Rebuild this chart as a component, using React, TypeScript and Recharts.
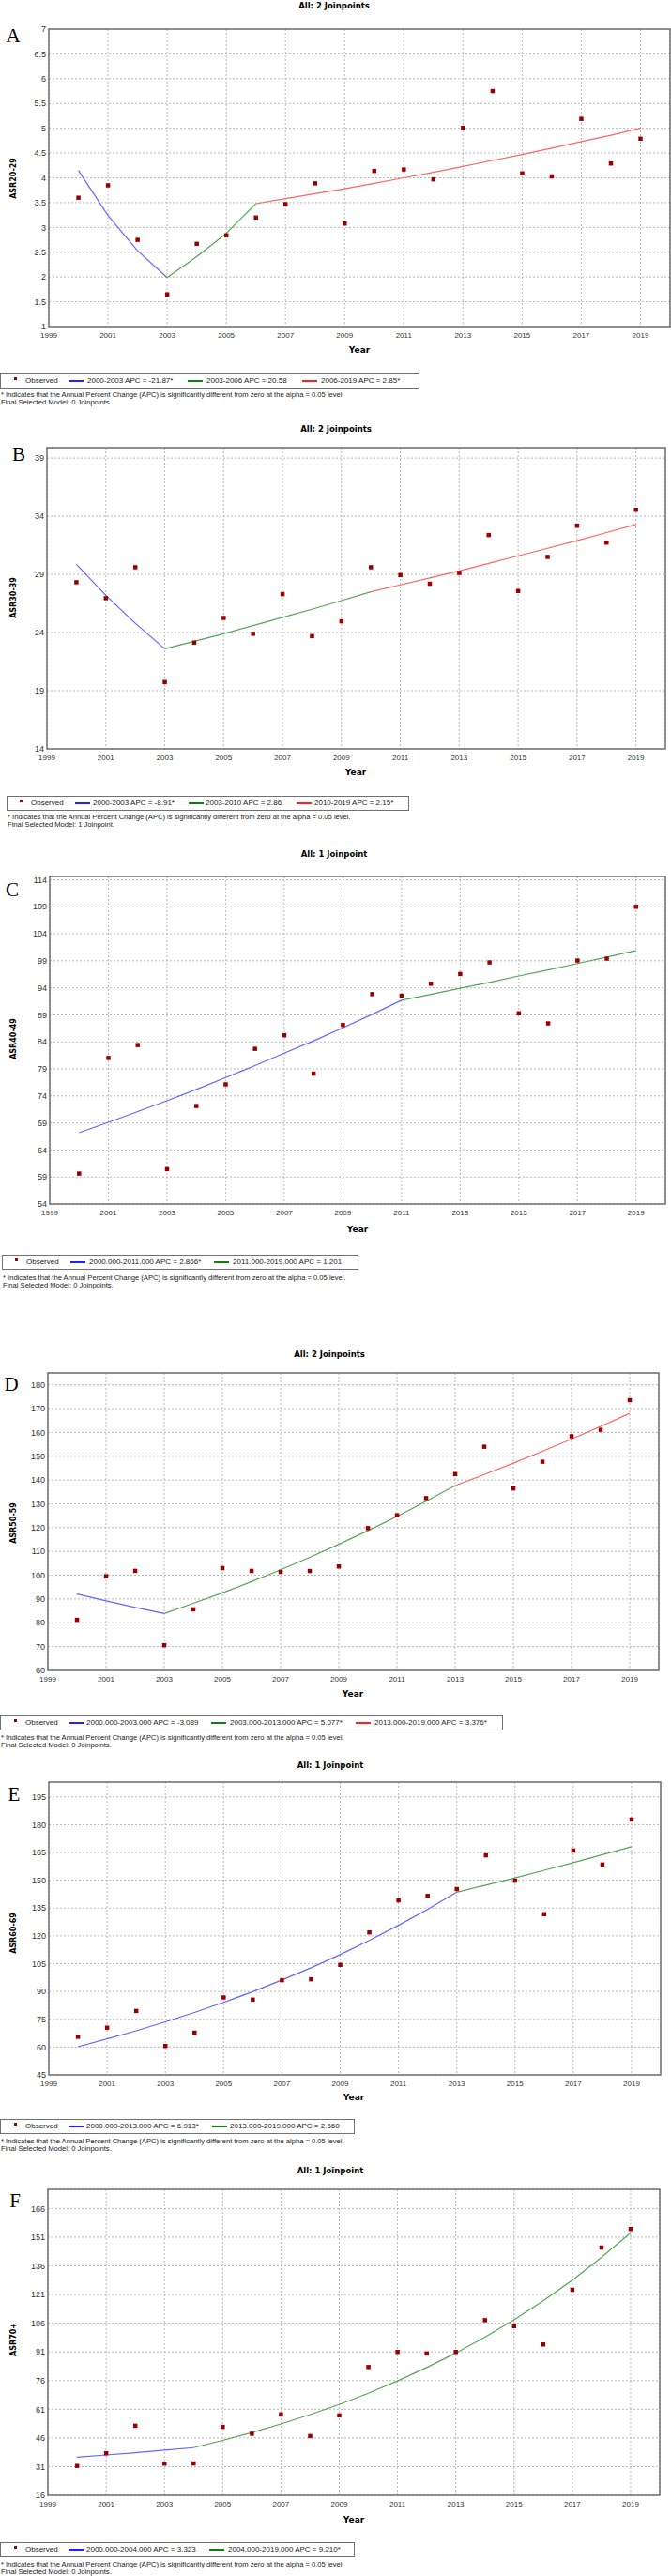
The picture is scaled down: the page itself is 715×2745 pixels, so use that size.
import React from "react"
import { ComposedChart, Line, Scatter, XAxis, YAxis, CartesianGrid, ReferenceArea } from "recharts"

const years = [2000, 2001, 2002, 2003, 2004, 2005, 2006, 2007, 2008, 2009, 2010, 2011, 2012, 2013, 2014, 2015, 2016, 2017, 2018, 2019]
const xTicks = [1999, 2001, 2003, 2005, 2007, 2009, 2011, 2013, 2015, 2017, 2019]

// A: ASR20-29
const obsA = [3.6, 3.85, 2.75, 1.65, 2.67, 2.84, 3.2, 3.47, 3.89, 3.08, 4.14, 4.17, 3.97, 5.01, 5.75, 4.09, 4.03, 5.19, 4.29, 4.79]
const fitA1 = [4.15, 3.24, 2.53, 1.99]
const fitA2 = [1.99, 2.41, 2.88, 3.48]
const fitA3 = [3.48, 3.58, 3.68, 3.78, 3.89, 4.0, 4.11, 4.23, 4.35, 4.47, 4.6, 4.73, 4.86, 5.0]
const ticksA = [1, 1.5, 2, 2.5, 3, 3.5, 4, 4.5, 5, 5.5, 6, 6.5, 7]

// B: ASR30-39
const obsB = [28.33, 26.96, 29.62, 19.75, 23.14, 25.26, 23.9, 27.31, 23.7, 24.97, 29.62, 28.95, 28.2, 29.13, 32.39, 27.58, 30.51, 33.19, 31.74, 34.56]
const fitB1 = [29.86, 27.2, 24.8, 22.6]
const fitB2 = [22.6, 23.25, 23.9, 24.6, 25.3, 26.0, 26.75, 27.5]
const fitB3 = [27.5, 28.1, 28.7, 29.3, 29.95, 30.6, 31.25, 31.9, 32.6, 33.3]
const ticksB = [14, 19, 24, 29, 34, 39]

// C: ASR40-49
const obsC = [59.64, 81.03, 83.42, 60.45, 72.14, 76.15, 82.72, 85.22, 78.13, 87.14, 92.84, 92.55, 94.76, 96.56, 98.71, 89.29, 87.43, 99.06, 99.41, 109.0]
const fitC1 = [67.2, 69.1, 71.1, 73.1, 75.2, 77.4, 79.6, 81.9, 84.2, 86.6, 89.1, 91.7]
const fitC2 = [91.7, 92.8, 93.9, 95.0, 96.2, 97.3, 98.5, 99.7, 100.9]
const ticksC = [54, 59, 64, 69, 74, 79, 84, 89, 94, 99, 104, 109, 114]

// D: ASR50-59
const obsD = [81.25, 99.6, 101.84, 70.6, 85.7, 103.0, 101.84, 101.4, 101.8, 103.7, 119.8, 125.2, 132.4, 142.5, 154.0, 136.5, 147.7, 158.4, 161.1, 173.6]
const fitD1 = [92.1, 89.2, 86.5, 83.9]
const fitD2 = [83.9, 88.2, 92.6, 97.3, 102.3, 107.5, 113.0, 118.7, 124.7, 131.1, 137.7]
const fitD3 = [137.7, 142.3, 147.1, 152.1, 157.2, 162.5, 168.0]
const ticksD = [60, 70, 80, 90, 100, 110, 120, 130, 140, 150, 160, 170, 180]

// E: ASR60-69
const obsE = [65.6, 70.5, 79.5, 60.6, 67.8, 86.8, 85.6, 96.1, 96.6, 104.4, 121.9, 139.2, 141.6, 145.3, 163.5, 149.8, 131.75, 166.1, 158.5, 182.8]
const fitE1 = [60.2, 64.4, 68.8, 73.6, 78.7, 84.1, 89.9, 96.2, 102.8, 109.9, 117.5, 125.7, 134.3, 143.6]
const fitE2 = [143.6, 147.4, 151.3, 155.4, 159.5, 163.8, 168.1]
const ticksE = [45, 60, 75, 90, 105, 120, 135, 150, 165, 180, 195]

// F: ASR70+
const obsF = [31.4, 38.0, 52.4, 32.6, 32.7, 51.8, 48.2, 58.3, 47.0, 57.8, 83.1, 91.0, 90.2, 91.0, 107.6, 104.5, 94.9, 123.5, 145.6, 155.3]
const fitF1 = [35.9, 37.1, 38.3, 39.6, 40.9]
const fitF2 = [40.9, 44.7, 48.8, 53.3, 58.2, 63.5, 69.4, 75.8, 82.8, 90.4, 98.7, 107.8, 117.7, 128.5, 140.4, 153.3]
const ticksF = [16, 31, 46, 61, 76, 91, 106, 121, 136, 151, 166]

const SANS = '"Liberation Sans", Arial, sans-serif'
const BOLD = '"DejaVu Sans", Verdana, sans-serif'
const SERIF = '"Liberation Serif", "Times New Roman", serif'

const BLUE = "#6464ff"
const GREEN = "#55a555"
const RED = "#ff6464"
const LBLUE = "#2020ff"
const LGREEN = "#108010"
const LRED = "#ff2020"
const DOT = "#9b0000"

const NOTE = "* Indicates that the Annual Percent Change (APC) is significantly different from zero at the alpha = 0.05 level."

const panels = [
  {
    letter: "A", title: "All: 2 Joinpoints", yLabel: "ASR20-29", obs: obsA, ticks: ticksA, domain: [1, 7],
    segs: [
      { from: 2000, values: fitA1, color: BLUE, lc: LBLUE, label: "2000-2003 APC = -21.87*" },
      { from: 2003, values: fitA2, color: GREEN, lc: LGREEN, label: "2003-2006 APC = 20.58" },
      { from: 2006, values: fitA3, color: RED, lc: LRED, label: "2006-2019 APC = 2.85*" },
    ],
    model: "Final Selected Model: 0 Joinpoints.",
    top: 31, bottom: 348, left: 52, right: 714, titleY: 6, titleX: 356, letterX: 14, letterY: 38, yLabelY: 190,
    yearX: 383, yearY: 373, legTop: 398, legLeft: 0, legRight: 447, obsX: 16, items: [[73, 93], [200, 220], [322, 342]], footX: 1, footY: 421,
  },
  {
    letter: "B", title: "All: 2 Joinpoints", yLabel: "ASR30-39", obs: obsB, ticks: ticksB, domain: [14, 39.9],
    segs: [
      { from: 2000, values: fitB1, color: BLUE, lc: LBLUE, label: "2000-2003 APC = -8.91*" },
      { from: 2003, values: fitB2, color: GREEN, lc: LGREEN, label: "2003-2010 APC = 2.86" },
      { from: 2010, values: fitB3, color: RED, lc: LRED, label: "2010-2019 APC = 2.15*" },
    ],
    model: "Final Selected Model: 1 Joinpoint.",
    top: 477, bottom: 798, left: 50, right: 709, titleY: 457, titleX: 358, letterX: 20, letterY: 484, yLabelY: 637,
    yearX: 379, yearY: 823, legTop: 848, legLeft: 7, legRight: 436, obsX: 22, items: [[80, 99], [201, 219], [316, 335]], footX: 8, footY: 871,
  },
  {
    letter: "C", title: "All: 1 Joinpoint", yLabel: "ASR40-49", obs: obsC, ticks: ticksC, domain: [54, 114.6],
    segs: [
      { from: 2000, values: fitC1, color: BLUE, lc: LBLUE, label: "2000.000-2011.000 APC = 2.866*" },
      { from: 2011, values: fitC2, color: GREEN, lc: LGREEN, label: "2011.000-2019.000 APC = 1.201" },
    ],
    model: "Final Selected Model: 0 Joinpoints.",
    top: 934, bottom: 1283, left: 53, right: 709, titleY: 910, titleX: 356, letterX: 13, letterY: 948, yLabelY: 1107,
    yearX: 381, yearY: 1310, legTop: 1337, legLeft: 2, legRight: 382, obsX: 17, items: [[75, 95], [228, 248]], footX: 3, footY: 1362,
  },
  {
    letter: "D", title: "All: 2 Joinpoints", yLabel: "ASR50-59", obs: obsD, ticks: ticksD, domain: [60, 185],
    segs: [
      { from: 2000, values: fitD1, color: BLUE, lc: LBLUE, label: "2000.000-2003.000 APC = -3.089" },
      { from: 2003, values: fitD2, color: GREEN, lc: LGREEN, label: "2003.000-2013.000 APC = 5.077*" },
      { from: 2013, values: fitD3, color: RED, lc: LRED, label: "2013.000-2019.000 APC = 3.376*" },
    ],
    model: "Final Selected Model: 0 Joinpoints.",
    top: 1463, bottom: 1780, left: 51, right: 702, titleY: 1443, titleX: 351, letterX: 12, letterY: 1475, yLabelY: 1623,
    yearX: 376, yearY: 1805, legTop: 1828, legLeft: 0, legRight: 536, obsX: 16, items: [[73, 92], [225, 245], [379, 399]], footX: 1, footY: 1852,
  },
  {
    letter: "E", title: "All: 1 Joinpoint", yLabel: "ASR60-69", obs: obsE, ticks: ticksE, domain: [45, 203],
    segs: [
      { from: 2000, values: fitE1, color: BLUE, lc: LBLUE, label: "2000.000-2013.000 APC = 6.913*" },
      { from: 2013, values: fitE2, color: GREEN, lc: LGREEN, label: "2013.000-2019.000 APC = 2.660" },
    ],
    model: "Final Selected Model: 0 Joinpoints.",
    top: 1899, bottom: 2211, left: 52, right: 704, titleY: 1881, titleX: 352, letterX: 15, letterY: 1912, yLabelY: 2060,
    yearX: 377, yearY: 2235, legTop: 2258, legLeft: 0, legRight: 378, obsX: 16, items: [[73, 92], [226, 245]], footX: 1, footY: 2282,
  },
  {
    letter: "F", title: "All: 1 Joinpoint", yLabel: "ASR70+", obs: obsF, ticks: ticksF, domain: [16, 176],
    segs: [
      { from: 2000, values: fitF1, color: BLUE, lc: LBLUE, label: "2000.000-2004.000 APC = 3.323" },
      { from: 2004, values: fitF2, color: GREEN, lc: LGREEN, label: "2004.000-2019.000 APC = 9.210*" },
    ],
    model: "Final Selected Model: 0 Joinpoints.",
    top: 2333, bottom: 2659, left: 51, right: 703, titleY: 2313, titleX: 352, letterX: 16, letterY: 2345, yLabelY: 2493,
    yearX: 377, yearY: 2685, legTop: 2709, legLeft: 0, legRight: 378, obsX: 16, items: [[73, 92], [223, 243]], footX: 1, footY: 2733,
  },
]

const Square = (props: any) => {
  const { cx, cy } = props
  if (cx == null || cy == null) return null
  return <rect x={cx - 2.2} y={cy - 2.2} width={4.5} height={4.5} fill={DOT} />
}

function Txt({ x, y, size, children, center, font = SANS, weight = 400, color = "#222" }: any) {
  return (
    <div
      style={{
        position: "absolute",
        left: x,
        top: y - size / 2,
        fontSize: size,
        lineHeight: `${size}px`,
        fontFamily: font,
        fontWeight: weight,
        color,
        whiteSpace: "nowrap",
        transform: center ? "translateX(-50%)" : undefined,
      }}
    >
      {children}
    </div>
  )
}

function Panel({ p }: any) {
  const obsData = years.map((year, i) => ({ year, value: p.obs[i] }))
  const padTop = 10
  const axisH = 22
  const height = padTop + (p.bottom - p.top) + axisH
  const legMid = p.legTop + 8
  return (
    <>
      <Txt x={p.titleX} y={p.titleY} size={8.5} center font={BOLD} weight={700} color="#000">{p.title}</Txt>
      <Txt x={p.letterX} y={p.letterY} size={21} center font={SERIF} color="#000">{p.letter}</Txt>
      <div
        style={{
          position: "absolute",
          left: 15,
          top: p.yLabelY,
          transform: "translate(-50%, -50%) rotate(-90deg)",
          fontFamily: BOLD,
          fontWeight: 700,
          fontSize: 8,
          lineHeight: "8px",
          whiteSpace: "nowrap",
          color: "#000",
        }}
      >
        {p.yLabel}
      </div>
      <div style={{ position: "absolute", left: 0, top: p.top - padTop }}>
        <ComposedChart width={715} height={height} margin={{ top: padTop, right: 715 - p.right, bottom: 0, left: 0 }}>
          <CartesianGrid stroke="#b8b8b8" strokeDasharray="2 2" strokeWidth={1} />
          <XAxis
            dataKey="year"
            type="number"
            domain={[1999, 2020]}
            ticks={xTicks}
            interval={0}
            allowDataOverflow
            height={axisH}
            axisLine={false}
            tickLine={false}
            tickSize={0}
            tickMargin={6}
            tick={{ fontSize: 8, fill: "#333", fontFamily: SANS }}
          />
          <YAxis
            type="number"
            domain={p.domain}
            ticks={p.ticks}
            interval={0}
            allowDataOverflow
            width={p.left}
            axisLine={false}
            tickLine={false}
            tickSize={0}
            tickMargin={3}
            tick={{ fontSize: 9, fill: "#333", fontFamily: SANS }}
          />
          <ReferenceArea
            x1={1999}
            x2={2020}
            y1={p.domain[0]}
            y2={p.domain[1]}
            fill="none"
            fillOpacity={0}
            stroke="#707070"
            strokeWidth={1.5}
            ifOverflow="visible"
          />
          {p.segs.map((s: any, k: number) => (
            <Line
              key={k}
              data={s.values.map((v: number, i: number) => ({ year: s.from + i, value: v }))}
              dataKey="value"
              type="linear"
              stroke={s.color}
              strokeWidth={1.2}
              dot={false}
              activeDot={false}
              isAnimationActive={false}
            />
          ))}
          <Scatter data={obsData} dataKey="value" shape={Square} isAnimationActive={false} />
        </ComposedChart>
      </div>
      <Txt x={p.yearX} y={p.yearY} size={9} center font={BOLD} weight={700} color="#000">Year</Txt>
      <div
        style={{
          position: "absolute",
          left: p.legLeft,
          top: p.legTop,
          width: p.legRight - p.legLeft,
          height: 16,
          border: "1.5px solid #707070",
          boxSizing: "border-box",
          background: "#fff",
        }}
      />
      <div style={{ position: "absolute", left: p.obsX - 1.5, top: legMid - 4, width: 3, height: 3, background: DOT }} />
      <Txt x={p.obsX + 11} y={legMid} size={8}>Observed</Txt>
      {p.segs.map((s: any, k: number) => (
        <React.Fragment key={k}>
          <div style={{ position: "absolute", left: p.items[k][0], top: legMid - 1.5, width: 16, height: 2, background: s.lc }} />
          <Txt x={p.items[k][1]} y={legMid} size={8}>{s.label}</Txt>
        </React.Fragment>
      ))}
      <Txt x={p.footX} y={p.footY} size={7.6}>{NOTE}</Txt>
      <Txt x={p.footX} y={p.footY + 8} size={7.6}>{p.model}</Txt>
    </>
  )
}

export default function App() {
  return (
    <div style={{ position: "absolute", left: 0, top: 0, width: 715, height: 2745, background: "#fff", overflow: "hidden" }}>
      {panels.map((p, i) => (
        <Panel key={i} p={p} />
      ))}
    </div>
  )
}
